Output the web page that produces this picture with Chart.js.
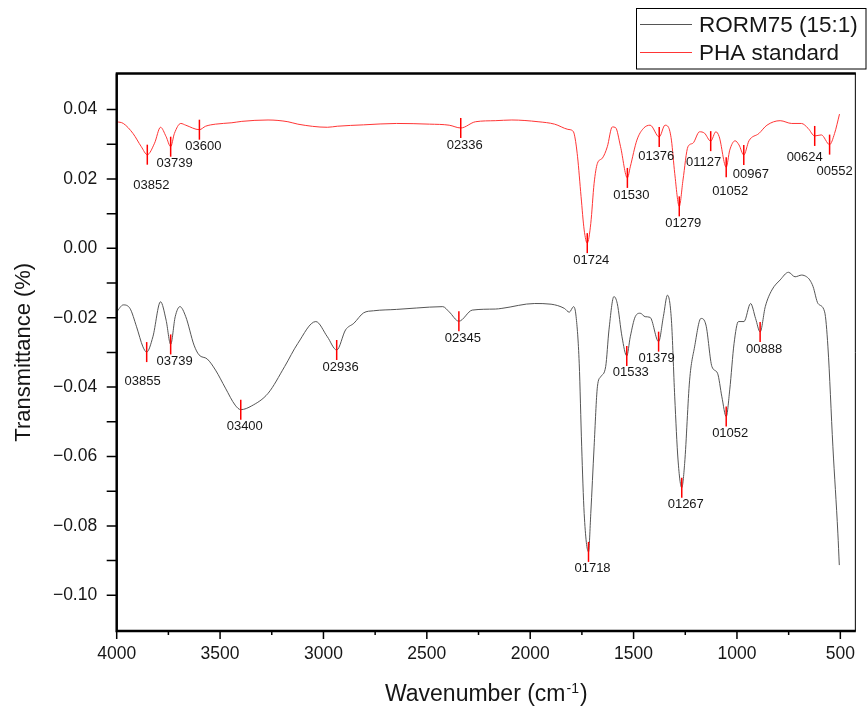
<!DOCTYPE html>
<html><head><meta charset="utf-8">
<script src="https://cdn.jsdelivr.net/npm/chart.js@4.4.1/dist/chart.umd.min.js"></script>
<style>html,body{margin:0;padding:0;background:#fff}#wrap{width:868px;height:706px;position:relative}</style>
</head><body><div id="wrap"><canvas id="c"></canvas></div>
<script>
// ---------------- DATA ----------------
const seriesNames = ['RORM75 (15:1)', 'PHA standard'];
const xTickValues = [4000, 3500, 3000, 2500, 2000, 1500, 1000, 500];
const xMinorTickValues = [3750, 3250, 2750, 2250, 1750, 1250, 750];
const yTickValues = [0.04, 0.02, 0.00, -0.02, -0.04, -0.06, -0.08, -0.10];
const yMinorTickValues = [0.03, 0.01, -0.01, -0.03, -0.05, -0.07, -0.09];

const rormWave = [4000,3968,3936,3904,3873,3855,3825,3788,3761,3739,3717,3694,3666,3626,3602,3562,3522,3474,3427,3400,3347,3268,3188,3124,3037,2981,2936,2893,2853,2806,2758,2646,2551,2423,2392,2345,2280,2169,2137,1978,1899,1835,1811,1790,1778,1763,1751,1739,1718,1707,1691,1675,1659,1635,1619,1595,1579,1556,1533,1516,1492,1468,1444,1420,1379,1356,1336,1317,1301,1285,1267,1253,1229,1205,1174,1150,1121,1094,1073,1052,1035,1014,993,966,934,910,888,863,831,791,751,719,687,663,648,632,608,576,560,536,512,505];
const rormValue = [-0.0183,-0.0163,-0.0173,-0.0226,-0.0284,-0.0299,-0.0255,-0.0154,-0.0207,-0.0277,-0.0197,-0.0168,-0.0197,-0.0279,-0.0307,-0.0319,-0.0351,-0.0403,-0.0452,-0.0465,-0.0454,-0.0418,-0.0341,-0.0274,-0.0211,-0.0255,-0.0293,-0.0235,-0.0216,-0.0186,-0.018,-0.0176,-0.0172,-0.0168,-0.0183,-0.021,-0.0178,-0.0175,-0.0173,-0.0159,-0.0161,-0.0173,-0.0184,-0.0168,-0.0197,-0.0331,-0.0572,-0.0764,-0.0875,-0.0764,-0.0572,-0.0399,-0.037,-0.0341,-0.0235,-0.0139,-0.0159,-0.0255,-0.031,-0.0255,-0.0197,-0.0187,-0.0197,-0.0199,-0.0269,-0.0197,-0.0135,-0.0207,-0.0428,-0.061,-0.069,-0.062,-0.038,-0.0284,-0.0202,-0.0221,-0.0341,-0.036,-0.0428,-0.0485,-0.0408,-0.0274,-0.0211,-0.0211,-0.0159,-0.0202,-0.0241,-0.0168,-0.012,-0.0091,-0.0069,-0.0082,-0.0077,-0.0082,-0.0091,-0.011,-0.0159,-0.0183,-0.0284,-0.0572,-0.0821,-0.0913];

const phaWave = [4000,3968,3921,3881,3852,3817,3788,3761,3739,3721,3690,3666,3600,3570,3522,3443,3395,3268,3172,3124,2981,2933,2806,2646,2487,2392,2336,2264,2169,2089,1962,1882,1818,1795,1786,1771,1754,1739,1724,1707,1691,1675,1651,1627,1603,1587,1563,1530,1516,1484,1452,1420,1376,1348,1332,1317,1301,1279,1261,1237,1213,1181,1157,1127,1102,1086,1052,1035,1009,990,967,942,894,855,791,735,688,656,624,592,552,528,504];
const phaValue = [0.0365,0.036,0.0331,0.0293,0.027,0.0303,0.0349,0.0322,0.0293,0.0331,0.036,0.0355,0.0342,0.0352,0.0358,0.0362,0.0366,0.037,0.0365,0.0358,0.0349,0.0352,0.0356,0.036,0.0358,0.0355,0.0347,0.0365,0.0368,0.037,0.0365,0.0358,0.0343,0.0339,0.0327,0.0264,0.0149,0.0053,0.0015,0.0072,0.0187,0.0245,0.026,0.0293,0.035,0.0348,0.0293,0.0203,0.0235,0.0312,0.0346,0.0355,0.0321,0.0355,0.035,0.0312,0.0216,0.0121,0.0197,0.0293,0.0303,0.0336,0.0332,0.0309,0.0336,0.0322,0.0234,0.0283,0.031,0.0298,0.0269,0.031,0.0331,0.0355,0.0368,0.036,0.036,0.0346,0.0324,0.0327,0.0299,0.0331,0.0387];

const rormPeakWave = [3855,3739,3400,2936,2345,1718,1533,1379,1267,1052,888];
const rormPeakValue = [-0.0299,-0.0277,-0.0465,-0.0293,-0.021,-0.0875,-0.031,-0.0269,-0.069,-0.0485,-0.0241];
const phaPeakWave = [3852,3739,3600,2336,1724,1530,1376,1279,1127,1052,967,624,552];
const phaPeakValue = [0.027,0.0293,0.0342,0.0347,0.0015,0.0203,0.0321,0.0121,0.0309,0.0234,0.0269,0.0324,0.0299];

// ---------------- STYLE ----------------
const FONT = "'Liberation Sans', Arial, Helvetica, sans-serif";
const style = {
  rormColor: '#555555',
  phaColor: '#ff3535',
  markerColor: '#ff0000',
  textColor: '#161616',
  markerHalf: 10,
  labelDx: 4,
  labelDy: 7,
  // label nudges [dx, dy] (layout only, keyed by peak wavenumber)
  nudges: {
    pha: {3852:[4,20.5],1376:[-3,9],1127:[-7,11.6],1052:[4,14],967:[7,9],624:[-10,11.7],552:[5,17]},
    rorm: {3855:[-4,19.7],1379:[-2,6.6]}
  }
};

const fmtPeak = w => String(w).padStart(5, '0');
const fmtY = v => (Math.abs(v) < 1e-9 ? 0 : v).toFixed(2).replace('-', '\u2212');

const decor = {
  id: 'decor',
  afterDatasetsDraw(chart) {
    const {ctx, chartArea: a, scales: {x, y}} = chart;
    ctx.save();
    const drawPeaks = (waves, vals, nudge) => {
      waves.forEach((w, i) => {
        const px = x.getPixelForValue(w), py = y.getPixelForValue(vals[i]);
        ctx.strokeStyle = style.markerColor; ctx.lineWidth = 1.5;
        ctx.beginPath(); ctx.moveTo(px, py - style.markerHalf); ctx.lineTo(px, py + style.markerHalf); ctx.stroke();
        const n = nudge[w] || [style.labelDx, style.labelDy];
        ctx.fillStyle = style.textColor; ctx.font = `13px ${FONT}`;
        ctx.textAlign = 'center'; ctx.textBaseline = 'middle';
        ctx.fillText(fmtPeak(w), px + n[0], py + style.markerHalf + n[1]);
      });
    };
    drawPeaks(phaPeakWave, phaPeakValue, style.nudges.pha);
    drawPeaks(rormPeakWave, rormPeakValue, style.nudges.rorm);
    ctx.restore();
  },
  afterDraw(chart) {
    const {ctx, chartArea: a, scales: {x, y}} = chart;
    ctx.save();
    // frame
    ctx.strokeStyle = '#000';
    ctx.lineWidth = 2.5;
    ctx.beginPath();
    ctx.moveTo(a.left, a.top); ctx.lineTo(a.left, a.bottom); ctx.lineTo(a.right, a.bottom);
    ctx.moveTo(a.left - 1, a.top); ctx.lineTo(a.right, a.top);
    ctx.stroke();
    ctx.lineWidth = 1;
    ctx.beginPath(); ctx.moveTo(a.right - 0.5, a.top); ctx.lineTo(a.right - 0.5, a.bottom); ctx.stroke();
    // ticks
    ctx.lineWidth = 1.5;
    ctx.beginPath();
    yTickValues.concat(yMinorTickValues).forEach(v => {
      const py = y.getPixelForValue(v);
      ctx.moveTo(a.left - 10, py); ctx.lineTo(a.left, py);
    });
    xTickValues.forEach(v => {
      const px = x.getPixelForValue(v);
      ctx.moveTo(px, a.bottom); ctx.lineTo(px, a.bottom + 8);
    });
    xMinorTickValues.forEach(v => {
      const px = x.getPixelForValue(v);
      ctx.moveTo(px, a.bottom); ctx.lineTo(px, a.bottom + 4);
    });
    ctx.stroke();
    // x title with superscript
    const main = 'Wavenumber (cm', sup = '-1', close = ')';
    ctx.fillStyle = style.textColor; ctx.textBaseline = 'alphabetic'; ctx.textAlign = 'left';
    ctx.font = `23px ${FONT}`;
    const wMain = ctx.measureText(main).width, wClose = ctx.measureText(close).width;
    ctx.font = `14px ${FONT}`;
    const wSup = ctx.measureText(sup).width;
    const total = wMain + 1 + wSup + 1 + wClose;
    let sx = (a.left + a.right) / 2 - total / 2;
    const base = 701;
    ctx.font = `23px ${FONT}`; ctx.fillText(main, sx, base); sx += wMain + 1;
    ctx.font = `14px ${FONT}`; ctx.fillText(sup, sx, base - 8); sx += wSup + 1;
    ctx.font = `23px ${FONT}`; ctx.fillText(close, sx, base);
    // legend
    ctx.lineWidth = 1; ctx.strokeStyle = '#000';
    ctx.strokeRect(636.5, 8.5, 229.5, 60.5);
    const rows = [[seriesNames[0], style.rormColor, 24.5], [seriesNames[1], style.phaColor, 52.5]];
    ctx.font = `22.5px ${FONT}`; ctx.textBaseline = 'middle'; ctx.fillStyle = style.textColor;
    rows.forEach(([t, c, ry]) => {
      ctx.strokeStyle = c; ctx.beginPath(); ctx.moveTo(640, ry); ctx.lineTo(692, ry); ctx.stroke();
      ctx.fillText(t, 699, ry + 1);
    });
    ctx.restore();
  }
};

new Chart(document.getElementById('c'), {
  type: 'line',
  data: {
    datasets: [
      { label: seriesNames[0], data: rormWave.map((w, i) => ({x: w, y: rormValue[i]})),
        borderColor: style.rormColor, borderWidth: 1, pointRadius: 0, cubicInterpolationMode: 'monotone', fill: false },
      { label: seriesNames[1], data: phaWave.map((w, i) => ({x: w, y: phaValue[i]})),
        borderColor: style.phaColor, borderWidth: 1, pointRadius: 0, cubicInterpolationMode: 'monotone', fill: false }
    ]
  },
  options: {
    responsive: true, maintainAspectRatio: false, animation: false,
    layout: { padding: { top: 73.5, right: 3, left: 0, bottom: 0 } },
    plugins: { legend: { display: false }, tooltip: { enabled: false } },
    scales: {
      x: {
        type: 'linear', reverse: true, min: 425, max: 4000,
        grid: { display: false, drawTicks: false }, border: { display: false },
        afterBuildTicks: s => { s.ticks = xTickValues.map(v => ({value: v})); },
        afterFit: s => { s.height = 75; },
        ticks: { autoSkip: false, maxRotation: 0, padding: 13, color: style.textColor,
                 font: { family: FONT, size: 17.5 }, callback: v => String(v) }
      },
      y: {
        type: 'linear', min: -0.1103, max: 0.0504,
        grid: { display: false, drawTicks: false }, border: { display: false },
        afterBuildTicks: s => { s.ticks = yTickValues.map(v => ({value: v})); },
        afterFit: s => { s.width = 116.7; },
        ticks: { autoSkip: false, padding: 19.5, color: style.textColor,
                 font: { family: FONT, size: 17.5 }, callback: v => fmtY(v) },
        title: { display: true, text: 'Transmittance (%)', color: style.textColor,
                 font: { family: FONT, size: 22 }, padding: { top: 11, bottom: 0 } }
      }
    }
  },
  plugins: [decor]
});
</script>
</body></html>
